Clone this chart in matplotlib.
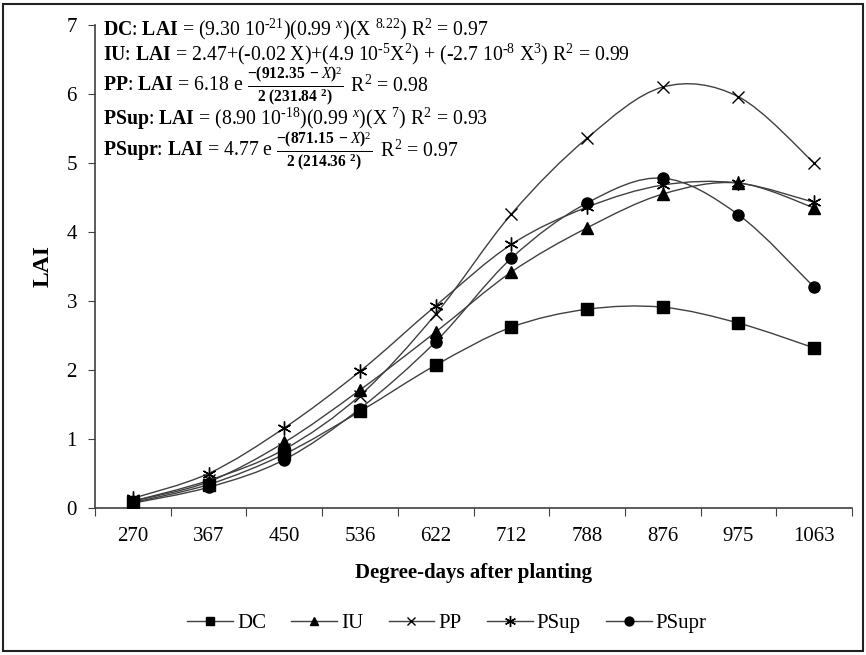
import numpy as np
import matplotlib
matplotlib.use("Agg")
import matplotlib.pyplot as plt
from matplotlib.path import Path
from matplotlib.patches import PathPatch, Rectangle
from matplotlib.lines import Line2D

plt.rcParams['font.family'] = ['Liberation Serif', 'DejaVu Serif']
plt.rcParams['mathtext.fontset'] = 'custom'
plt.rcParams['mathtext.rm'] = 'Liberation Serif'
plt.rcParams['mathtext.it'] = 'Liberation Serif:italic'
plt.rcParams['mathtext.bf'] = 'Liberation Serif:bold'

# degree-days after planting (categorical axis)
degree_days = ['270', '367', '450', '536', '622', '712', '788', '876', '975', '1063']

# LAI per treatment
lai_dc = [0.08, 0.34, 0.78, 1.40, 2.07, 2.62, 2.88, 2.91, 2.68, 2.32]
lai_iu = [0.10, 0.38, 0.95, 1.71, 2.55, 3.42, 4.06, 4.55, 4.71, 4.35]
lai_pp = [0.10, 0.40, 0.85, 1.63, 2.81, 4.26, 5.36, 6.10, 5.96, 5.00]
lai_psup = [0.14, 0.50, 1.16, 1.98, 2.93, 3.82, 4.36, 4.68, 4.71, 4.43]
lai_psupr = [0.07, 0.30, 0.70, 1.44, 2.41, 3.62, 4.42, 4.78, 4.25, 3.20]

series_names = ['DC', 'IU', 'PP', 'PSup', 'PSupr']
series_values = [lai_dc, lai_iu, lai_pp, lai_psup, lai_psupr]
markers = ['s', '^', 'x', (6, 2, 0), 'o']
marker_sizes = [8, 8, 8, 10, 8]

# fitted equations: list of pieces, fractions drawn as their own piece
equations = [
    [r'$\mathbf{DC}$: $\mathbf{LAI}$ = (9.30 10$^{\text{-}21}$)(0.99 $^{x}$)(X $^{8.22}$) R$^{2}$ = 0.97'],
    [r'$\mathbf{IU}$: $\mathbf{LAI}$ = 2.47+(-0.02 X)+(4.9 10$^{\text{-}5}$X$^{2}$) + (-2.7 10$^{\text{-}8}$ X$^{3}$) R$^{2}$ = 0.99'],
    [r'$\mathbf{PP}$: $\mathbf{LAI}$ = 6.18 e ',
     r'$\frac{\mathbf{-(912.35\ -}\mathit{X}\mathbf{)}^2}{\mathbf{2\ (231.84\ ^{2})}}$',
     r' R$^{2}$ = 0.98'],
    [r'$\mathbf{PSup}$: $\mathbf{LAI}$ = (8.90 10$^{\text{-}18}$)(0.99 $^{x}$)(X $^{7}$) R$^{2}$ = 0.93'],
    [r'$\mathbf{PSupr}$: $\mathbf{LAI}$ = 4.77 e ',
     r'$\frac{\mathbf{-(871.15\ -}\mathit{X}\mathbf{)}^2}{\mathbf{2\ (214.36\ ^{2})}}$',
     r' R$^{2}$ = 0.97'],
]
equation_y = [29, 54, 86, 119, 151]


def smooth_path(xs, ys, sx=1.1):
    # Excel-like smoothed line: Catmull-Rom as cubic Bezier segments
    pts = np.column_stack([np.asarray(xs, float) * sx, np.asarray(ys, float)])
    n = len(pts)
    verts = [pts[0]]
    codes = [Path.MOVETO]
    for i in range(n - 1):
        p0 = pts[max(i - 1, 0)]
        p1 = pts[i]
        p2 = pts[i + 1]
        p3 = pts[min(i + 2, n - 1)]
        c1 = p1 + (p2 - p0) / 6.0
        c2 = p2 - (p3 - p1) / 6.0
        verts += [c1, c2, p2]
        codes += [Path.CURVE4] * 3
    verts = np.array(verts)
    verts[:, 0] /= sx
    return Path(verts, codes)


fig = plt.figure(figsize=(8.66, 6.55), dpi=100)
W, H = 866, 655
ax = fig.add_axes([95 / W, 1 - 508 / H, (852 - 95) / W, (508 - 25) / H])

xpos = np.arange(len(degree_days))
line_color = '#404040'
for name, vals, m, ms in zip(series_names, series_values, markers, marker_sizes):
    ax.add_patch(PathPatch(smooth_path(xpos, vals), fill=False,
                           edgecolor=line_color, lw=1.0, zorder=2))
    ax.plot(xpos, vals, linestyle='none', marker=m, markersize=ms,
            color='black', markeredgecolor='black', markeredgewidth=1.0, zorder=3)

ax.set_xlim(-0.5, len(degree_days) - 0.5)
ax.set_ylim(0, 7)
ax.set_xticks(np.arange(-0.5, len(degree_days)), minor=False)
ax.set_xticklabels([])
ax.set_xticks(xpos, minor=True)
ax.set_xticklabels(degree_days, minor=True)
ax.tick_params(axis='x', which='minor', length=0, pad=14, labelsize=15)
ax.tick_params(axis='x', which='major', length=6, direction='out', color='#404040')
ax.set_yticks(range(0, 8))
ax.tick_params(axis='y', length=5, direction='out', labelsize=15, pad=8, color='#404040')
for s in ['top', 'right']:
    ax.spines[s].set_visible(False)
for s in ['left', 'bottom']:
    ax.spines[s].set_color('#404040')
    ax.spines[s].set_linewidth(1.2)

ax.set_ylabel('LAI', fontsize=17, fontweight='bold', labelpad=9)
ax.set_xlabel('Degree-days after planting', fontsize=15, fontweight='bold', labelpad=12)

for pieces, yy in zip(equations, equation_y):
    prev = fig.text(103 / W, 1 - yy / H, pieces[0], fontsize=14.2, ha='left', va='center')
    for k, piece in enumerate(pieces[1:]):
        size = 16 if k == 0 else 14.2
        prev = ax.annotate(piece, xy=(1, 0.5), xycoords=prev, xytext=(2, 0),
                           textcoords='offset points', fontsize=size,
                           ha='left', va='center', annotation_clip=False)

handles = [Line2D([], [], color=line_color, lw=1.0, marker=m, markersize=ms * 0.8,
                  markerfacecolor='black', markeredgecolor='black')
           for m, ms in zip(markers, marker_sizes)]
fig.legend(handles, series_names, loc='center', bbox_to_anchor=(447 / W, 1 - 623 / H),
           ncol=5, frameon=False, fontsize=15, handlelength=2.2, handletextpad=0.2,
           columnspacing=1.2)

fig.patches.append(Rectangle((0.004, 0.006), 0.992, 0.988, transform=fig.transFigure,
                             fill=False, edgecolor='#222222', lw=1.5))

fig.savefig('out.png', dpi=100)
